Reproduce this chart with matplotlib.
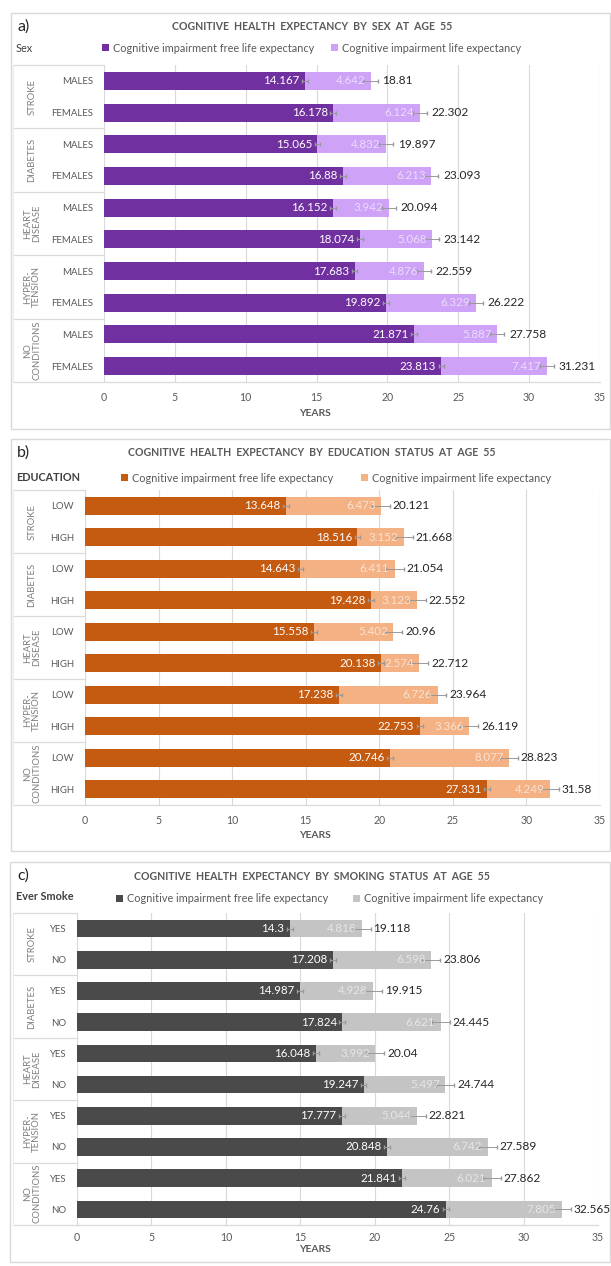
import matplotlib
matplotlib.use("Agg")
import matplotlib.pyplot as plt
from matplotlib.patches import Rectangle
from matplotlib.transforms import blended_transform_factory

plt.rcParams['font.family'] = ['Lato', 'DejaVu Sans']

W, H = 611, 1266

conditions = ['STROKE', 'DIABETES', 'HEART\nDISEASE', 'HYPER-\nTENSION', 'NO\nCONDITIONS']
legend_labels = ['Cognitive impairment free life expectancy', 'Cognitive impairment life expectancy']
xticks = [0, 5, 10, 15, 20, 25, 30, 35]

# a) by sex
sex_levels = ['MALES', 'FEMALES']
sex_free = [14.167, 16.178, 15.065, 16.88, 16.152, 18.074, 17.683, 19.892, 21.871, 23.813]
sex_impaired = [4.642, 6.124, 4.832, 6.213, 3.942, 5.068, 4.876, 6.329, 5.887, 7.417]
sex_total = [18.81, 22.302, 19.897, 23.093, 20.094, 23.142, 22.559, 26.222, 27.758, 31.231]
sex_err_free = [0.2, 0.2, 0.2, 0.2, 0.2, 0.2, 0.2, 0.2, 0.2, 0.2]
sex_err_total = [0.5, 0.5, 0.5, 0.5, 0.5, 0.5, 0.5, 0.5, 0.5, 0.5]

# b) by education
edu_levels = ['LOW', 'HIGH']
edu_free = [13.648, 18.516, 14.643, 19.428, 15.558, 20.138, 17.238, 22.753, 20.746, 27.331]
edu_impaired = [6.473, 3.152, 6.411, 3.123, 5.402, 2.574, 6.726, 3.366, 8.077, 4.249]
edu_total = [20.121, 21.668, 21.054, 22.552, 20.96, 22.712, 23.964, 26.119, 28.823, 31.58]
edu_err_free = [0.2, 0.2, 0.2, 0.2, 0.2, 0.2, 0.2, 0.2, 0.2, 0.2]
edu_err_total = [0.6, 0.6, 0.6, 0.6, 0.6, 0.6, 0.6, 0.6, 0.6, 0.6]

# c) by smoking
smk_levels = ['YES', 'NO']
smk_free = [14.3, 17.208, 14.987, 17.824, 16.048, 19.247, 17.777, 20.848, 21.841, 24.76]
smk_impaired = [4.818, 6.598, 4.928, 6.621, 3.992, 5.497, 5.044, 6.742, 6.021, 7.805]
smk_total = [19.118, 23.806, 19.915, 24.445, 20.04, 24.744, 22.821, 27.589, 27.862, 32.565]
smk_err_free = [0.2, 0.2, 0.2, 0.2, 0.2, 0.2, 0.2, 0.2, 0.2, 0.2]
smk_err_total = [0.6, 0.6, 0.6, 0.6, 0.6, 0.6, 0.6, 0.6, 0.6, 0.6]

GRID = '#D9D9D9'
TXT = '#595959'


def fx(px):
    return px / W


def fy(py):
    return 1 - py / H


def draw_panel(fig, box, axbox, letter, title, header, header_bold, levels,
               free, impaired, total, err_free, err_total, dark, light, light_txt,
               leg_xy, colspace):
    # panel frame
    bx0, by0, bx1, by1 = box
    fig.patches.append(Rectangle((fx(bx0), fy(by1)), fx(bx1 - bx0), (by1 - by0) / H,
                                 transform=fig.transFigure, fill=False,
                                 edgecolor=GRID, lw=1.0))
    x0, x1, ytop, ybot, ytitle, yhead, yticks_pad, yyears = axbox
    ax = fig.add_axes([fx(x0), fy(ybot), fx(x1 - x0), (ybot - ytop) / H])

    y = list(range(len(free)))
    b1 = ax.barh(y, free, height=0.57, color=dark, label=legend_labels[0])
    b2 = ax.barh(y, impaired, left=free, height=0.57, color=light, label=legend_labels[1])
    ax.errorbar(free, y, xerr=err_free, fmt='none', ecolor='#999999', elinewidth=0.7, capsize=1.3)
    ax.errorbar(total, y, xerr=err_total, fmt='none', ecolor='#999999', elinewidth=0.7, capsize=1.3)

    for i in y:
        ax.annotate(f"{free[i]:g}", (free[i], i), xytext=(-4, 0), textcoords='offset points',
                    ha='right', va='center', color='white', fontsize=8.3)
        ax.annotate(f"{impaired[i]:g}", (total[i], i), xytext=(-4, 0), textcoords='offset points',
                    ha='right', va='center', color=light_txt, fontsize=8.3)
        ax.annotate(f"{total[i]:g}", (total[i], i), xytext=(8.5, 0), textcoords='offset points',
                    ha='left', va='center', color='#262626', fontsize=8.6)

    ax.set_xlim(0, 35)
    ax.set_ylim(len(free) - 0.5, -0.5)
    ax.set_xticks(xticks)
    ax.set_yticks(y)
    ax.set_yticklabels(levels * len(conditions))
    ax.tick_params(axis='both', length=0, colors=TXT, labelsize=7.6)
    ax.tick_params(axis='x', pad=yticks_pad)
    ax.tick_params(axis='y', pad=8, labelsize=6.9)
    for s in ax.spines.values():
        s.set_visible(False)
    ax.xaxis.grid(True, color=GRID, lw=0.8)
    ax.set_axisbelow(True)

    # condition group labels and separators
    tr = blended_transform_factory(fig.transFigure, ax.transData)
    for k, cond in enumerate(conditions):
        ax.text(fx(32), 2 * k + 0.5, cond, transform=tr, rotation=90, ha='center', va='center',
                multialignment='center', color='#7F7F7F', fontsize=6.8, linespacing=1.05)
    for yy in [-0.5, 1.5, 3.5, 5.5, 7.5]:
        ax.plot([fx(13), fx(x0)], [yy, yy], transform=tr, color=GRID, lw=0.9, clip_on=False)
    ax.plot([fx(13), fx(x1)], [9.5, 9.5], transform=tr, color=GRID, lw=0.9, clip_on=False)
    ax.plot([fx(13), fx(13)], [-0.5, 9.5], transform=tr, color='#EDEDED', lw=0.9, clip_on=False)

    # texts
    fig.text(fx(17), fy(ytitle), letter, ha='left', va='center', fontsize=11.5, color='#262626')
    fig.text(fx(312), fy(ytitle), title, ha='center', va='center', fontsize=7.6,
             fontweight='bold', color=TXT)
    fig.text(fx(16), fy(yhead), header, ha='left', va='center', fontsize=7.8,
             fontweight='bold' if header_bold else 'normal', color='#404040')
    fig.text(fx(315), fy(yyears), 'YEARS', ha='center', va='center', fontsize=7.4,
             fontweight='bold', color=TXT)
    ax.legend(handles=[b1, b2], loc='center left', bbox_to_anchor=(fx(leg_xy[0]), fy(leg_xy[1])),
              bbox_transform=fig.transFigure, ncol=2, frameon=False, fontsize=7.8,
              handlelength=0.65, handleheight=0.65, handletextpad=0.35, columnspacing=colspace,
              borderpad=0, borderaxespad=0, labelcolor=TXT)
    return ax


fig = plt.figure(figsize=(W / 100, H / 100), dpi=100)

draw_panel(fig, (11, 13, 610, 429), (104, 600, 65, 382, 27, 48, 7, 413), 'a)',
           'COGNITIVE  HEALTH  EXPECTANCY  BY  SEX  AT  AGE  55', 'Sex', False, sex_levels,
           sex_free, sex_impaired, sex_total, sex_err_free, sex_err_total,
           '#7030A0', '#CDA2F7', '#EBDDFB', (102, 48), 1.6)

draw_panel(fig, (11, 439, 610, 851), (85, 600, 490, 805, 453, 477, 7, 835), 'b)',
           'COGNITIVE  HEALTH  EXPECTANCY  BY  EDUCATION  STATUS  AT  AGE  55', 'EDUCATION', True,
           edu_levels, edu_free, edu_impaired, edu_total, edu_err_free, edu_err_total,
           '#C55A11', '#F4B183', '#FBE3D3', (121, 478), 2.6)

draw_panel(fig, (10, 862, 610, 1262), (77, 598, 913, 1225, 876, 896, 5, 1250), 'c)',
           'COGNITIVE  HEALTH  EXPECTANCY  BY  SMOKING  STATUS  AT  AGE  55', 'Ever Smoke', True,
           smk_levels, smk_free, smk_impaired, smk_total, smk_err_free, smk_err_total,
           '#4A4A4A', '#C4C4C4', '#E6E6E6', (116, 899), 2.3)

fig.savefig('out.png', dpi=100)
